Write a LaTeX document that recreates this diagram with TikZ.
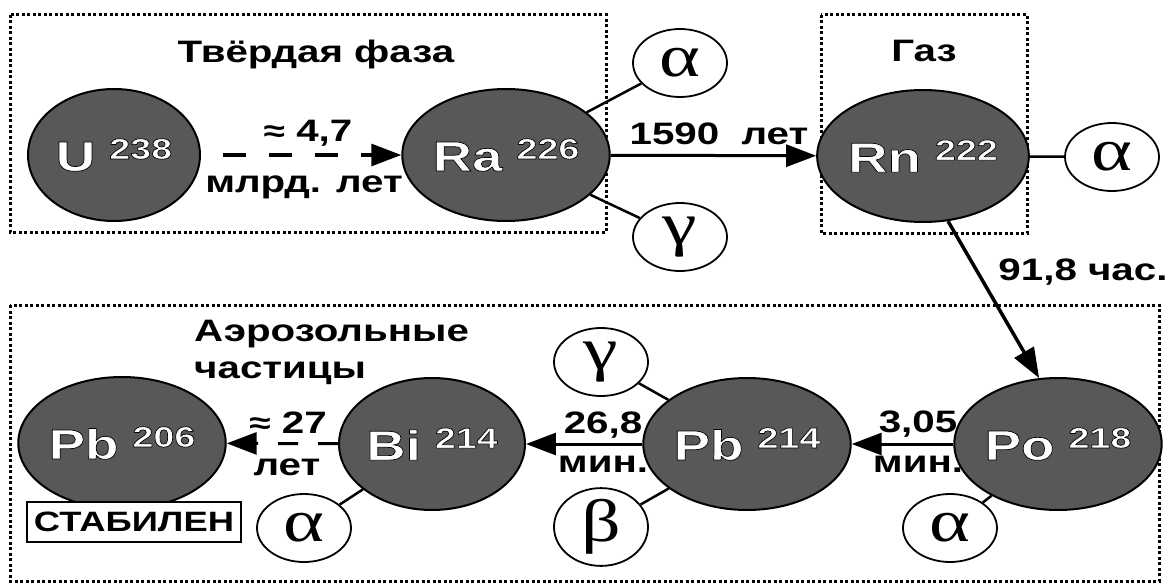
\documentclass[tikz,border=0pt]{standalone}
\usepackage{fontspec}
\setmainfont{Liberation Sans}[FakeStretch=1.3]
\newfontfamily\grk{Liberation Serif}[FakeStretch=1.3]
\usetikzlibrary{shapes.geometric,arrows.meta}
\definecolor{nucfill}{RGB}{88,88,88}
\newcommand\outl[1]{\special{pdf:literal direct 2 Tr 0.7 w 0 0 0 RG}#1\special{pdf:literal direct 0 Tr}}
\newcommand\nuc[2]{\outl{\fontsize{42}{42}\selectfont\bfseries #1\hspace{14pt}\raisebox{12pt}{\fontsize{29}{29}\selectfont #2}}}
\newcommand\lbl{\fontsize{31}{37}\selectfont\bfseries}
\newcommand\apx{{\fontsize{30}{30}\selectfont ≈}}
\tikzset{
  nucleus/.style={ellipse, draw, line width=2pt, fill=nucfill, minimum width=172pt, minimum height=132pt, inner sep=0pt, text=white},
  particle/.style={ellipse, draw, line width=1.8pt, fill=white, minimum width=94pt, minimum height=68pt, inner sep=0pt, font=\grk\fontsize{60}{60}\selectfont},
  dotbox/.style={line width=3pt, dash pattern=on 3pt off 2.5pt},
  arr/.style={line width=3pt, -{Triangle[length=30pt,width=22pt]}},
  dasharr/.style={arr, dash pattern=on 23pt off 23pt},
  link/.style={line width=2.5pt},
  txt/.style={font=\lbl, inner sep=0pt, anchor=base},
}
\begin{document}
\begin{tikzpicture}[x=1pt,y=-1pt]
\useasboundingbox (0,0) rectangle (1167,583);
\fill[white] (0,0) rectangle (1167,583);
% phase boxes
\draw[dotbox] (10,15) rectangle (606,232);
\draw[dotbox] (821,15) rectangle (1027,233);
\draw[dotbox] (10,305) rectangle (1159,581);
% nuclei
\node[nucleus] (U)  at (114,155) {\nuc{U}{238}};
\node[nucleus] (Ra) at (506,155) {\nuc{Ra}{226}};
\node[nucleus] (Rn) at (923,156) {\nuc{Rn}{222}};
\node[nucleus] (Po) at (1058,444) {\nuc{Po}{218}};
\node[nucleus] (PbB) at (747,444) {\nuc{Pb}{214}};
\node[nucleus] (Bi) at (432,444) {\nuc{Bi}{214}};
\node[nucleus] (PbA) at (122,443) {\nuc{Pb}{206}};
% particles
\node[particle] (aRa) at (680,63) {α};
\node[particle] (gRa) at (680,237) {γ};
\node[particle] (aRn) at (1112,157) {α};
\node[particle] (gPb) at (601,362) {γ};
\node[particle] (bPb) at (601,527) {β};
\node[particle] (aPo) at (950,528) {α};
\node[particle] (aBi) at (304,528) {α};
% links
\draw[link] (Ra) -- (aRa);
\draw[link] (Ra) -- (gRa);
\draw[link] (Rn) -- (aRn);
\draw[link] (PbB) -- (gPb);
\draw[link] (PbB) -- (bPb);
\draw[link] (Po) -- (aPo);
\draw[link] (Bi) -- (aBi);
% decays
\draw[dasharr, shorten <=22pt] (U) -- (Ra);
\draw[arr] (Ra) -- (Rn);
\draw[arr, line width=3.5pt] (Rn.-69) -- (Po.106);
\draw[arr] (Po) -- (PbB);
\draw[arr] (PbB) -- (Bi);
\draw[dasharr, dash pattern=on 20pt off 20pt] (Bi) -- (PbA);
% stable label
\node[draw, line width=2pt, fill=white, minimum width=214pt, minimum height=40pt, inner sep=0pt, font=\fontsize{28}{28}\selectfont\bfseries] (st) at (134,522) {СТАБИЛЕН};
% texts
\node[txt] (t1) at (316,63) {Твёрдая фаза};
\node[txt] (t2) at (924,62) {Газ};
\node[txt, font=\lbl, align=left, anchor=north west] (t3) at (194,320) {Аэрозольные\\частицы};
\node[txt] (l1) at (308,142) {\apx\ 4,7};
\node[txt] (l2) at (304,192) {млрд. лет};
\node[txt] (l3) at (719,145) {1590 \ лет};
\node[txt] (l4) at (1083,280) {91,8 час.};
\node[txt] (l5) at (288,433) {\apx\ 27};
\node[txt] (l6) at (287,475) {лет};
\node[txt] (l7) at (603,433) {26,8};
\node[txt] (l8) at (603,472) {мин.};
\node[txt] (l9) at (918,432) {3,05};
\node[txt] (l10) at (918,472) {мин.};
\end{tikzpicture}
\end{document}
